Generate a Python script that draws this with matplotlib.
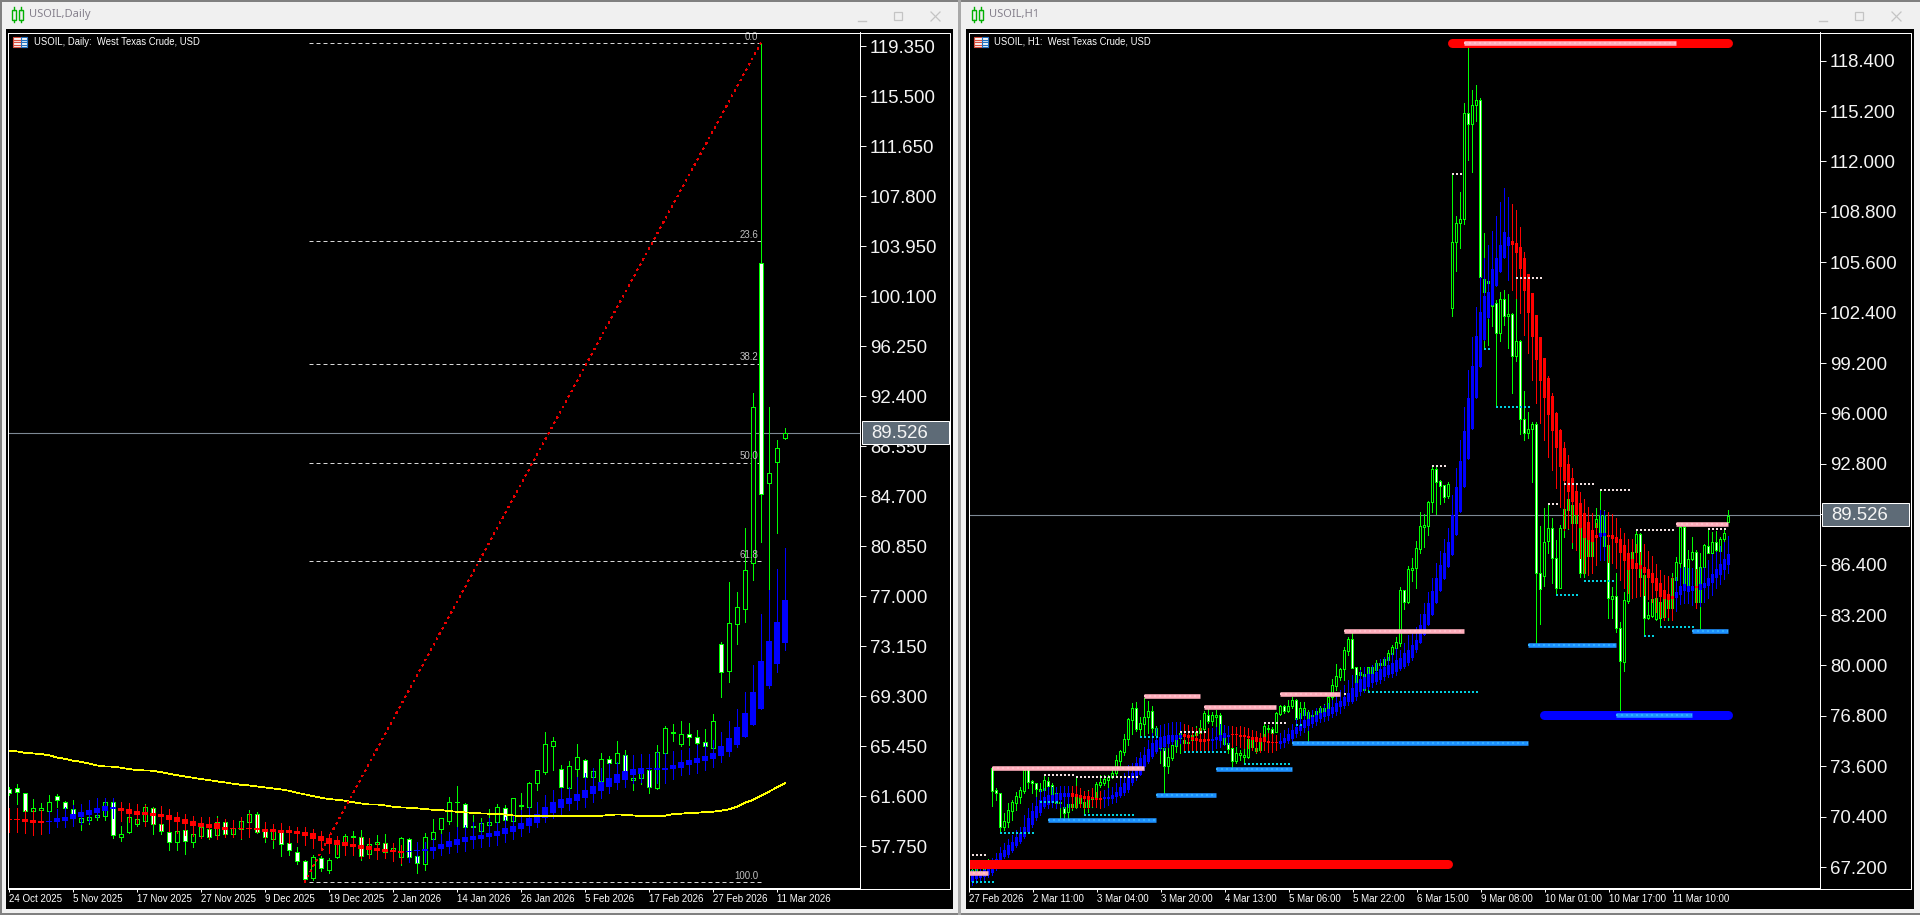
"""USOIL daily and H1 terminal windows, side by side."""

import matplotlib
matplotlib.use("Agg")
import matplotlib.pyplot as plt
import numpy as np
from matplotlib.patches import Rectangle

# ── Daily window ──────────────────────────────────────────────────────────────
d_tick_labels = ["24 Oct 2025", "5 Nov 2025", "17 Nov 2025", "27 Nov 2025", "9 Dec 2025", "19 Dec 2025",
                 "2 Jan 2026", "14 Jan 2026", "26 Jan 2026", "5 Feb 2026", "17 Feb 2026", "27 Feb 2026",
                 "11 Mar 2026"]
d_price_ticks = [119.35, 115.5, 111.65, 107.8, 103.95, 100.1, 96.25, 92.4, 88.55, 84.7, 80.85, 77.0,
                 73.15, 69.3, 65.45, 61.6, 57.75]
d_dir = ("DDDUUUDDDU" "UUUDUUUUDD" "DUDUUDUDUU" "UDDUDDDDUD" "UUUUDUUDUU"
         "DDUUUUUDDU" "UUDUUUUUUD" "UUDUUDUDUU" "DUUUUDDDUD" "UUUUDUUU")
d_top = [62.11,62.19,61.80,60.65,60.65,61.11,61.62,61.16,60.57,59.88,
         60.01,60.13,61.11,61.11,58.64,59.95,59.80,60.72,60.65,59.42,
         58.80,58.93,58.98,58.64,59.18,59.06,59.57,59.57,59.11,59.70,
         60.19,60.19,58.95,58.90,58.90,57.95,57.31,56.62,56.87,56.85,
         56.64,58.21,58.54,58.52,58.47,57.88,58.03,57.95,57.57,58.34,
         58.26,56.98,58.41,58.80,59.88,61.11,61.16,60.95,59.26,59.49,
         59.57,60.72,60.65,61.42,60.88,62.57,63.57,65.58,65.81,63.65,
         63.88,64.57,64.34,63.50,64.42,64.42,64.88,64.78,62.96,63.73,
         63.60,65.01,66.81,66.50,66.35,66.35,66.12,65.73,67.35,73.27,
         74.89,76.12,78.97,91.52,102.66,86.49,88.37,89.52]
d_bot = [61.80,61.88,60.47,60.47,60.55,60.47,61.29,60.65,59.88,59.62,
         59.75,59.95,60.08,58.59,58.41,58.80,59.47,59.70,59.47,58.90,
         58.03,58.08,58.16,58.03,58.52,58.47,58.59,58.64,58.64,59.06,
         59.62,58.85,58.41,58.29,57.88,57.46,56.62,55.18,55.26,56.03,
         55.92,56.93,57.90,58.41,57.00,57.10,57.88,57.31,57.39,56.93,
         56.93,56.41,56.33,58.31,59.08,59.70,61.11,59.23,59.23,58.93,
         59.39,59.62,59.75,59.70,60.83,60.78,62.62,63.47,65.47,62.32,
         62.24,63.70,63.09,63.09,62.78,64.16,64.16,63.55,62.80,62.96,
         62.26,62.19,64.88,66.45,65.60,66.12,65.65,65.47,65.32,71.12,
         71.25,74.87,76.02,79.51,84.85,85.67,87.29,89.14]
d_high = [62.26,62.52,61.85,61.37,61.03,61.67,61.75,61.21,61.29,60.52,
          60.78,60.78,61.42,61.42,59.29,60.52,60.90,60.98,60.72,59.88,
          58.85,58.98,59.11,59.24,59.49,59.36,60.06,59.62,59.49,60.01,
          60.52,60.39,59.11,59.11,58.98,58.00,57.70,56.67,57.05,57.00,
          56.80,58.47,58.64,58.90,58.98,58.34,58.59,58.67,57.95,58.47,
          58.34,58.08,58.72,59.80,59.88,61.49,62.37,61.08,60.13,59.88,
          60.57,60.95,60.90,61.42,61.80,62.65,63.57,66.50,66.12,63.98,
          64.29,65.58,64.42,63.73,64.88,64.68,65.83,65.14,64.75,64.11,
          63.86,65.52,66.99,67.14,67.37,67.19,66.68,66.76,67.89,73.43,
          78.05,77.28,82.23,92.60,119.56,91.52,89.00,89.91]
d_low = [61.67,60.98,60.26,60.13,60.13,60.13,60.78,60.26,59.49,58.98,
         59.44,59.75,59.75,58.39,58.16,58.72,59.29,59.36,58.67,58.67,
         57.44,57.44,57.13,57.64,58.34,58.29,58.34,58.47,58.52,58.29,
         59.49,58.72,58.08,57.57,57.00,57.05,56.36,54.98,55.13,55.82,
         55.64,56.85,57.80,57.57,56.67,56.93,57.77,57.18,57.18,56.28,
         56.54,55.69,55.90,56.85,57.95,59.44,59.23,59.11,58.21,58.21,
         59.23,59.11,59.44,59.23,60.00,60.65,62.06,63.29,63.60,62.26,
         62.19,62.83,62.06,62.78,62.70,63.98,63.98,62.26,62.06,62.49,
         61.85,62.11,64.75,65.83,65.45,65.52,65.52,63.65,65.32,69.24,
         70.40,73.33,75.02,78.23,81.18,77.46,81.82,89.10]
d_ha_top = [59.83,59.83,59.83,59.75,59.67,59.70,59.90,59.98,60.21,60.34,
            60.49,60.70,60.83,60.72,60.70,60.57,60.42,60.36,60.26,60.21,
            60.11,59.95,59.80,59.65,59.49,59.42,59.49,59.24,59.13,59.11,
            59.13,59.11,59.03,59.03,58.98,58.95,58.90,58.82,58.72,58.52,
            58.34,58.21,58.05,57.93,57.82,57.77,57.62,57.52,57.46,57.36,
            57.36,57.44,57.51,57.69,57.90,58.11,58.26,58.44,58.52,58.59,
            58.75,58.88,59.11,59.29,59.49,59.88,60.21,60.72,61.13,61.34,
            61.44,61.75,62.06,62.37,62.70,62.96,63.26,63.52,63.65,63.73,
            63.75,63.73,63.75,63.98,64.21,64.37,64.52,64.68,64.88,65.45,
            66.06,66.88,67.96,69.60,71.97,73.53,74.99,76.69]
d_ha_bot = [59.72,59.72,59.62,59.54,59.52,59.62,59.62,59.70,59.80,59.95,
            60.13,60.26,60.44,60.62,60.47,60.21,60.13,60.13,60.08,59.95,
            59.77,59.59,59.47,59.31,59.18,59.11,59.06,58.98,59.03,59.06,
            59.08,58.98,58.82,58.82,58.77,58.75,58.70,58.54,58.31,58.16,
            57.93,57.82,57.75,57.67,57.54,57.44,57.39,57.28,57.28,57.23,
            57.28,57.34,57.34,57.36,57.51,57.67,57.82,58.05,58.21,58.26,
            58.44,58.54,58.67,58.85,59.03,59.29,59.49,59.93,60.26,60.70,
            60.98,61.19,61.44,61.75,61.98,62.26,62.57,62.83,63.19,63.29,
            63.65,63.60,63.62,63.68,63.75,63.98,64.11,64.29,64.42,64.70,
            65.01,65.52,66.14,67.06,68.29,70.09,71.79,73.38]
d_ha_high = [60.65,60.65,60.52,60.52,60.52,60.47,60.57,60.78,60.90,60.98,
             61.29,61.42,61.42,61.42,61.16,61.03,60.98,60.90,60.70,60.83,
             60.57,60.39,60.21,60.06,60.01,59.95,59.88,59.80,59.75,59.95,
             60.26,60.13,59.62,59.44,59.49,59.29,59.24,59.18,59.03,58.93,
             58.67,58.52,58.47,58.34,58.47,58.34,57.95,57.95,57.95,57.82,
             58.08,58.08,58.08,58.34,58.67,58.85,59.18,59.36,59.62,59.62,
             59.88,59.62,60.00,60.13,60.52,60.78,61.16,61.67,62.06,62.19,
             62.32,63.03,63.34,63.73,63.73,64.11,64.24,64.75,64.75,64.83,
             64.83,65.01,64.88,65.06,65.14,65.32,65.52,65.65,65.91,66.50,
             67.37,68.27,69.60,71.66,75.59,77.46,79.05,80.69]
d_ha_low = [58.85,58.85,58.72,58.59,58.67,58.72,59.18,59.18,59.29,59.44,
            59.62,60.01,60.13,59.88,59.70,59.62,59.49,59.29,59.44,58.98,
            58.93,58.77,58.59,58.52,58.39,58.34,58.26,58.47,58.47,58.34,
            58.41,58.85,58.34,58.21,58.08,57.95,58.08,57.82,57.62,57.44,
            57.18,57.13,57.05,57.05,56.80,56.80,56.72,56.80,56.62,56.46,
            56.54,56.54,56.54,56.80,57.05,57.18,57.31,57.36,57.57,57.69,
            57.75,57.82,58.08,58.26,58.52,58.85,59.23,59.62,59.88,60.21,
            60.52,60.57,60.78,61.16,61.42,61.80,62.11,62.32,62.57,62.70,
            62.32,62.57,62.62,62.88,63.21,63.29,63.34,63.60,63.80,64.24,
            64.68,65.40,66.14,67.06,68.29,69.94,71.14,72.84]
d_ha_red = [(0, 4), (14, 49)]
d_ma = [65.04,65.04,64.93,64.88,64.83,64.75,64.57,64.47,64.32,64.24,
        64.11,63.96,63.88,63.86,63.78,63.68,63.60,63.57,63.55,63.44,
        63.32,63.21,63.11,63.01,62.91,62.83,62.73,62.65,62.55,62.47,
        62.42,62.34,62.26,62.19,62.11,62.01,61.85,61.73,61.60,61.47,
        61.37,61.31,61.24,61.13,61.03,60.95,60.95,60.88,60.78,60.72,
        60.70,60.65,60.60,60.54,60.52,60.44,60.39,60.34,60.31,60.26,
        60.24,60.21,60.18,60.11,60.06,60.06,60.08,60.08,60.08,60.08,
        60.08,60.08,60.08,60.08,60.08,60.13,60.18,60.16,60.11,60.06,
        60.03,60.06,60.08,60.21,60.24,60.29,60.31,60.36,60.39,60.47,
        60.57,60.77,61.08,61.29,61.62,61.93,62.26,62.57]
fib_levels = [119.58, 104.33, 94.90, 87.28, 79.66, 54.98]
fib_labels = ["0.0", "23.6", "38.2", "50.0", "61.8", "100.0"]
fib_bars = [37, 94]

# ── H1 window ─────────────────────────────────────────────────────────────────
h_tick_labels = ["27 Feb 2026", "2 Mar 11:00", "3 Mar 04:00", "3 Mar 20:00", "4 Mar 13:00", "5 Mar 06:00",
                 "5 Mar 22:00", "6 Mar 15:00", "9 Mar 08:00", "10 Mar 01:00", "10 Mar 17:00", "11 Mar 10:00"]
h_price_ticks = [118.4, 115.2, 112.0, 108.8, 105.6, 102.4, 99.2, 96.0, 92.8, 89.6, 86.4, 83.2, 80.0,
                 76.8, 73.6, 70.4, 67.2]
h_dir = ("UUUUUUDDDU" "UUUUUDDDUU" "DDDUDUUUDU" "DUUUUUUUUU" "UUDUUUDUDD"
         "UUUUUUUUUU" "DUUDUDDUUU" "UUDUUUDUUD" "UUDUUDUUUU" "UUUUUUDDUD"
         "UUUUUUUUUD" "UUUUUUUDDD" "UUUUUDUUDU" "UUDUDUDUDD" "UUDDUUDDUU"
         "UUUDUUUUUU" "DUDDUUUUDD" "UUUDUUUUUD" "UUDUUDUDUUU")
h_top = [66.90,67.01,67.05,66.97,67.12,67.33,
         73.46,72.09,71.92,70.12,70.82,71.35,71.71,72.09,73.36,73.40,72.64,72.51,72.13,72.72,
         72.68,72.41,71.88,71.35,70.99,71.20,71.20,71.71,71.77,71.35,71.67,71.67,72.47,72.62,
         72.79,72.94,73.19,73.99,74.56,75.30,76.57,77.27,77.27,76.32,76.74,77.10,77.10,76.05,
         75.47,74.73,74.20,74.95,75.47,75.69,75.26,75.16,75.58,75.79,76.00,76.96,76.85,76.85,
         76.85,76.85,75.37,75.05,74.73,74.42,74.46,74.31,75.30,75.26,74.73,75.26,76.15,76.05,
         75.96,76.96,77.42,77.44,77.44,77.80,77.80,77.27,77.27,77.06,76.85,77.12,77.27,77.27,
         78.01,78.75,79.30,79.77,80.98,81.67,81.67,79.92,79.56,79.45,79.88,79.88,80.13,80.13,
         80.38,80.76,81.15,81.47,84.79,84.77,86.10,86.16,87.43,88.85,88.89,90.35,92.47,92.47,
         91.71,91.43,91.52,106.91,108.07,108.33,115.10,115.10,115.61,115.88,115.88,104.52,104.43,
         103.14,102.99,103.25,103.25,102.30,102.30,100.60,100.60,95.63,95.00,95.31,95.33,85.89,
         87.86,88.70,88.70,86.80,88.70,89.91,90.54,90.18,89.55,89.02,88.49,87.96,88.60,89.30,
         89.55,89.55,87.65,84.41,84.41,82.36,84.15,86.33,87.22,88.32,88.32,85.74,83.20,84.20,
         84.26,84.05,84.20,84.20,85.53,86.54,88.81,88.81,86.73,87.22,87.22,86.27,87.65,87.58,
         87.86,87.86,88.00,88.39,89.51]
h_bot = [66.69,66.76,66.80,66.80,66.90,66.97,
         72.05,71.88,69.76,69.76,70.08,70.78,71.28,71.67,72.05,72.62,72.51,72.13,72.03,72.09,
         72.34,71.67,71.24,71.24,70.65,70.67,70.99,70.99,71.24,70.99,70.99,71.50,71.67,72.41,
         72.55,72.72,72.94,73.15,73.95,74.52,75.30,76.53,75.96,75.96,76.28,76.74,76.05,75.58,
         74.73,73.63,73.63,74.10,74.88,75.37,75.05,75.05,75.26,75.58,75.69,75.96,76.49,76.49,
         76.74,75.43,75.03,74.67,73.93,73.95,74.31,74.20,74.16,74.84,74.59,74.63,75.30,75.98,
         75.69,75.79,76.89,77.12,77.12,77.42,76.57,76.64,76.85,76.22,76.32,76.74,77.06,77.06,
         77.21,77.97,78.69,79.28,79.75,80.93,79.85,78.97,79.39,78.44,79.07,79.07,79.71,80.02,
         80.02,80.34,80.72,81.08,81.45,84.05,84.05,86.08,86.16,87.41,88.81,88.87,90.35,91.67,
         91.41,90.71,90.76,102.68,106.91,108.07,108.33,114.36,114.36,115.61,104.69,103.73,104.31,
         102.85,101.13,101.13,102.21,102.21,99.67,99.67,95.63,94.78,94.78,95.00,85.89,84.83,
         85.70,87.92,86.80,84.94,84.94,88.70,89.87,89.02,89.02,85.85,85.85,86.95,86.95,88.81,
         88.28,87.58,84.26,84.22,82.36,80.28,80.24,84.09,86.33,87.22,85.63,82.99,82.99,83.16,
         82.93,83.03,83.10,83.62,83.62,85.42,86.52,85.17,85.11,86.73,84.05,84.05,86.27,87.16,
         87.12,87.33,87.29,88.00,89.13]
h_high = [67.12,67.20,67.25,67.20,67.40,67.70,
          73.46,72.19,71.92,70.61,71.24,71.45,71.98,72.30,73.46,73.46,72.72,72.55,72.51,73.04,
          72.94,72.51,72.09,71.67,71.14,71.35,71.28,72.98,72.09,71.67,72.09,72.19,72.62,73.04,
          73.04,73.04,73.46,74.31,74.63,75.62,76.64,77.63,77.70,76.74,77.91,77.74,77.42,76.15,
          75.58,74.84,74.73,75.47,75.79,76.00,75.47,75.58,75.79,76.15,76.53,77.10,77.38,77.06,
          77.17,76.96,76.22,75.69,74.84,74.84,74.63,74.84,75.58,75.58,75.05,75.69,76.32,76.22,
          76.11,77.06,77.48,77.48,77.80,78.01,77.84,77.70,77.70,77.17,77.06,77.27,77.42,77.55,
          78.23,79.11,80.07,79.81,81.19,81.78,82.03,79.92,79.92,79.49,79.92,80.02,80.34,80.34,
          80.55,80.98,81.29,81.82,84.96,84.77,86.31,86.82,87.90,89.74,89.61,90.42,92.62,92.62,
          91.77,91.45,91.64,111.14,108.54,110.04,115.69,119.18,116.54,116.83,116.01,107.44,104.69,
          103.42,103.21,103.73,103.84,103.59,102.36,103.31,100.67,97.43,96.12,95.48,95.47,88.85,
          89.97,90.25,89.34,87.96,88.91,90.18,91.56,91.35,90.18,89.13,90.18,88.81,89.23,89.97,
          91.14,89.87,87.75,85.00,85.85,82.78,84.68,86.90,87.43,88.60,88.43,85.85,84.05,84.26,
          84.37,84.15,84.37,84.37,85.85,86.90,89.02,88.96,87.33,88.17,87.33,87.12,87.71,88.60,
          88.49,88.53,88.17,88.70,89.87]
h_low = [66.50,66.55,66.60,66.60,66.70,66.80,
         71.09,71.45,69.38,69.55,69.76,70.18,70.82,71.24,71.92,72.19,71.88,71.45,71.24,71.45,
         71.77,71.45,71.03,70.29,70.29,70.29,70.82,70.92,71.03,70.50,70.71,71.03,71.35,72.30,
         72.41,72.30,72.83,72.94,73.61,74.31,74.95,75.64,75.86,75.47,75.43,75.69,75.79,74.42,
         73.78,71.88,73.15,73.99,74.52,74.42,74.63,74.63,75.05,75.47,75.26,75.86,76.32,76.22,
         75.79,75.26,74.95,74.42,73.53,73.78,73.99,73.78,74.10,74.63,74.46,74.52,75.16,75.79,
         75.58,75.75,76.85,76.96,77.06,77.27,76.11,76.43,76.64,75.16,76.11,76.64,76.85,76.85,
         77.06,77.80,78.44,79.07,79.07,80.66,79.85,78.86,78.97,78.33,78.44,78.97,79.18,79.39,
         79.49,79.92,80.55,80.66,81.23,83.58,83.98,85.36,84.94,87.14,87.52,88.28,89.74,89.61,
         90.27,90.38,90.65,102.19,105.07,106.53,108.03,112.11,111.35,114.57,103.67,100.14,100.35,
         101.56,96.43,100.60,101.62,100.18,97.28,99.35,94.68,94.32,94.42,91.67,81.36,82.63,
         85.06,87.11,85.26,84.47,84.89,88.17,88.66,87.43,89.02,85.59,85.59,85.85,86.69,88.39,
         86.90,86.69,82.99,82.99,82.14,77.13,79.67,83.94,85.74,86.48,85.63,81.87,82.95,83.10,
         82.88,82.46,82.88,82.88,83.52,85.32,86.27,85.11,85.00,86.69,83.62,82.36,86.16,87.12,
         87.07,87.29,87.22,87.92,89.13]
h_ha_top = [66.48,66.69,66.76,66.90,67.01,67.22,67.33,67.69,68.11,68.28,
            68.60,68.81,69.13,69.34,69.76,70.29,70.78,71.09,71.45,71.67,
            71.77,71.77,71.83,71.88,71.88,71.88,71.88,71.83,71.77,71.73,
            71.71,71.62,71.58,71.56,71.62,71.67,71.77,71.98,72.26,72.51,
            72.94,73.15,73.78,74.10,74.31,74.67,75.05,75.26,75.43,75.52,
            75.58,75.58,75.58,75.58,75.62,75.58,75.47,75.37,75.33,75.30,
            75.30,75.30,75.43,75.58,75.69,75.58,75.62,75.62,75.58,75.58,
            75.52,75.47,75.43,75.37,75.47,75.20,75.16,75.16,75.20,75.37,
            75.62,75.90,76.11,76.22,76.53,76.57,76.74,76.85,76.96,77.06,
            77.21,77.34,77.59,77.76,78.01,78.27,78.54,78.86,79.11,79.24,
            79.45,79.45,79.60,79.75,79.92,80.02,80.13,80.34,80.45,80.76,
            80.98,81.29,81.61,82.57,83.27,83.94,84.75,85.57,86.38,87.12,
            87.86,89.55,91.31,92.98,94.88,97.01,99.04,100.92,102.47,103.46,
            103.73,105.15,105.85,106.70,107.52,107.18,106.95,106.80,106.57,105.89,
            104.86,103.63,102.25,100.88,99.50,98.23,97.11,96.01,94.95,93.78,
            92.79,91.88,91.09,90.29,89.66,89.08,88.60,88.28,88.39,88.39,
            88.28,88.28,88.13,88.00,87.65,87.12,86.73,86.48,86.38,86.23,
            86.12,85.85,85.53,85.21,84.79,84.53,84.43,84.68,85.04,85.15,
            85.06,85.04,85.04,85.17,85.25,85.53,85.80,86.12,86.44,86.73,87.07]
h_ha_bot = [66.06,66.27,66.42,66.48,66.59,66.69,66.80,67.12,67.65,67.86,
            67.96,68.24,68.53,68.81,69.13,69.44,69.87,70.29,70.61,71.03,
            71.14,71.24,71.35,71.45,71.62,71.67,71.67,71.62,71.56,71.52,
            71.45,71.50,71.45,71.45,71.50,71.52,71.52,71.62,71.73,71.88,
            72.09,72.51,72.83,73.04,73.57,73.85,74.20,74.52,74.73,74.84,
            75.01,75.16,75.26,75.37,75.47,75.41,75.26,75.22,75.16,75.16,
            75.20,75.22,75.26,75.22,75.37,75.43,75.58,75.56,75.47,75.43,
            75.37,75.26,75.16,75.11,75.16,75.05,75.05,75.05,75.03,75.05,
            75.18,75.33,75.62,75.86,76.00,76.15,76.28,76.43,76.57,76.70,
            76.81,76.91,77.06,77.34,77.42,77.70,77.70,78.01,78.29,78.48,
            78.61,78.86,78.97,79.07,79.24,79.39,79.45,79.60,79.75,79.92,
            80.13,80.45,80.98,81.40,81.93,82.57,83.20,83.98,84.73,85.49,
            86.27,87.01,88.28,89.76,91.33,93.10,95.01,97.01,98.97,100.67,
            102.08,102.89,104.12,105.00,105.85,106.63,106.70,106.21,105.17,103.80,
            102.40,100.88,99.40,98.08,97.01,95.91,94.91,93.78,92.62,91.71,
            91.03,90.40,89.55,88.70,88.07,87.96,87.86,88.11,88.17,88.22,
            88.13,88.03,87.75,87.12,86.65,86.06,86.12,86.12,86.12,85.85,
            85.57,85.21,84.75,84.37,84.22,84.15,84.22,84.30,84.47,84.73,
            84.68,84.75,84.89,84.79,84.89,85.04,85.21,85.53,85.74,86.06,86.38]
h_ha_high = [66.90,67.01,67.22,67.22,67.33,67.54,67.75,68.07,68.45,68.70,
             68.98,69.23,69.55,69.76,70.50,70.92,71.24,71.67,72.09,72.19,
             72.26,72.30,72.30,72.34,72.34,72.34,72.34,72.34,72.19,72.05,
             72.05,72.19,71.98,72.05,72.09,72.19,72.30,72.55,72.94,73.15,
             73.68,73.78,74.20,74.52,74.84,75.26,75.69,76.00,76.22,76.28,
             76.36,76.43,76.43,76.43,76.28,76.22,76.07,76.00,76.00,75.79,
             76.00,76.00,76.11,76.28,76.22,76.15,76.15,76.11,76.15,76.11,
             76.00,75.90,75.86,75.69,75.64,75.69,75.69,75.58,75.73,75.90,
             76.00,76.28,76.64,76.96,77.17,77.06,77.17,77.27,77.27,77.48,
             77.59,77.80,78.12,78.44,78.75,79.07,79.39,79.39,79.71,79.92,
             79.81,80.02,80.13,80.38,80.55,80.55,80.76,81.08,80.98,81.40,
             81.93,82.03,82.46,83.27,83.94,84.68,85.57,86.48,87.26,88.03,
             88.70,90.82,92.51,94.31,96.38,98.76,100.88,102.74,104.69,105.85,
             106.70,107.61,108.54,109.43,110.34,109.77,109.30,108.92,107.86,106.27,
             104.86,103.63,102.25,100.88,99.50,98.38,97.28,96.10,95.00,94.16,
             93.36,92.51,91.56,91.03,90.54,90.04,89.70,89.06,89.87,89.82,
             89.76,89.61,89.38,88.70,88.39,88.03,88.00,87.71,87.22,87.71,
             87.26,86.95,86.44,86.06,85.74,85.68,85.63,85.63,86.16,86.27,
             86.16,86.16,86.12,86.21,86.27,86.69,87.05,87.22,87.58,87.86,88.22]
h_ha_low = [65.95,66.06,66.16,66.27,66.37,66.59,66.69,67.01,67.54,67.75,
            67.86,68.17,68.45,68.70,69.02,69.34,69.76,70.18,70.50,70.92,
            70.92,71.03,70.92,71.03,70.92,71.03,70.92,71.03,71.03,70.92,
            70.92,71.07,71.03,70.92,70.99,71.14,71.24,71.35,71.67,71.77,
            71.98,72.41,72.72,73.04,73.36,73.78,74.10,74.42,74.63,74.63,
            74.84,75.01,74.95,75.05,74.63,74.63,74.63,74.59,74.52,74.52,
            74.63,74.63,74.73,74.84,74.95,75.01,74.84,74.95,74.84,74.73,
            74.73,74.63,74.52,74.52,74.63,74.52,74.52,74.63,74.73,74.84,
            75.05,75.16,75.47,75.58,75.79,75.90,76.11,76.22,76.43,76.49,
            76.53,76.74,76.85,76.96,77.27,77.48,77.59,77.80,78.12,78.33,
            78.48,78.61,78.82,78.90,79.07,79.24,79.28,79.39,79.71,79.81,
            80.02,80.34,80.87,81.40,81.93,82.57,83.20,83.98,84.73,85.49,
            86.27,87.01,88.28,89.76,91.33,93.10,95.01,97.01,98.97,100.67,
            102.08,102.89,104.12,105.00,105.85,104.48,103.84,103.31,102.36,100.98,
            99.82,98.13,96.65,95.38,94.31,93.25,92.41,91.28,90.08,88.60,
            88.70,87.86,87.33,86.80,85.85,85.74,85.85,86.38,86.69,86.69,
            86.59,86.48,86.16,85.42,84.89,84.58,84.26,84.37,84.41,84.47,
            84.20,84.05,83.41,83.10,82.88,83.10,82.88,83.48,83.90,83.94,
            83.94,83.84,83.62,83.77,84.05,84.30,84.47,84.89,85.15,85.47,85.85]
h_ha_red = [(26, 33), (54, 60), (66, 77), (136, 157), (160, 176), (182, 182)]

# support / resistance levels on H1: first bar, last bar, price
pink_start = [0, 6, 44, 59, 78, 94, 124, 177]
pink_end = [5, 44, 58, 77, 93, 124, 177, 190]
pink_price = [66.8, 73.5, 78.05, 77.35, 78.2, 82.2, 119.5, 88.98]
sky_start = [20, 47, 62, 81, 140, 162, 181]
sky_end = [47, 62, 81, 140, 162, 181, 190]
sky_price = [70.2, 71.75, 73.4, 75.07, 81.3, 76.85, 82.2]
cyan_start = [0, 8, 18, 29, 43, 54, 69, 82, 100, 129, 132, 147, 154, 169, 173]
cyan_end = [7, 17, 23, 42, 48, 65, 81, 84, 128, 131, 141, 153, 162, 172, 182]
cyan_price = [66.25, 69.35, 71.3, 70.5, 75.45, 74.5, 73.75, 76.2, 78.3, 100.1, 96.4, 84.5, 85.35, 81.85, 82.45]
pale_start = [0, 19, 27, 53, 74, 94, 116, 121, 137, 145, 149, 158, 167, 185]
pale_end = [5, 27, 43, 60, 80, 95, 120, 124, 144, 148, 157, 166, 177, 190]
pale_price = [67.95, 73.05, 72.9, 75.8, 76.35, 78.2, 92.66, 111.2, 104.6, 90.25, 91.5, 91.14, 88.6, 88.65]
thick_red_bars = [[0, 120], [121, 190]]
thick_red_price = [67.4, 119.5]
thick_blue_bars = [144, 190]
thick_blue_price = 76.85

last_price = 89.526

PX = 0.72  # one pixel in points at dpi 100
GREEN = "#00ff00"
LABEL_FONT = "Liberation Sans"
TITLE_FONT = "Noto Sans"


def px_box(left, top, right, bottom):
    """Axes rectangle from pixel edges of the 1920x915 canvas."""
    return [left / 1920, 1 - bottom / 915, (right - left) / 1920, (bottom - top) / 915]


def draw_candles(ax, top, bot, high, low, dirs, body_w):
    x = np.arange(len(top))
    ax.vlines(x, low, high, colors=GREEN, linewidth=PX, antialiased=False, zorder=2)
    fill = ["white" if d == "D" else "black" for d in dirs]
    ax.bar(x, np.array(top) - np.array(bot), bottom=bot, width=body_w, color=fill,
           edgecolor=GREEN, linewidth=PX, antialiased=False, zorder=2.1)


def draw_ha(ax, top, bot, high, low, red_spans, body_w, min_h):
    x = np.arange(len(top))
    colour = np.array(["#0000ff"] * len(top), dtype=object)
    for first, last in red_spans:
        colour[first:last + 1] = "#ff0000"
    colour = list(colour)
    ax.vlines(x, low, high, colors=colour, linewidth=PX, antialiased=False, zorder=3)
    # very flat bodies still show as a one-pixel dash
    height = np.maximum(np.array(top) - np.array(bot), min_h)
    ax.bar(x, height, bottom=bot, width=body_w, color=colour, linewidth=0,
           antialiased=False, zorder=3.1)


def style_axis(ax, xticks, xlabels, yticks, xlim, ylim):
    ax.set_facecolor("black")
    ax.set_xlim(*xlim)
    ax.set_ylim(*ylim)
    for side in ["top", "left"]:
        ax.spines[side].set_visible(False)
    for side in ["right", "bottom"]:
        ax.spines[side].set_color("white")
        ax.spines[side].set_linewidth(PX)
    ax.yaxis.tick_right()
    ax.set_yticks(yticks)
    ax.set_yticklabels([f"{v:.3f}" for v in yticks], fontfamily=LABEL_FONT, fontsize=13.4)
    ax.tick_params(axis="y", colors="#f4f4f4", length=4.3, width=PX, pad=2.9)
    ax.set_xticks(xticks)
    ax.set_xticklabels(xlabels, fontfamily=LABEL_FONT, fontsize=7.0, ha="left")
    ax.tick_params(axis="x", colors="white", length=2.9, width=PX, pad=1.5)
    ax.axhline(last_price, color="#7d8994", linewidth=PX * 1.1, zorder=1.5)


def draw_chrome(bg, left, right, title):
    # left/right: edges of the black chart area in pixels
    bg.add_patch(Rectangle((left, 29), right - left, 880, color="black", lw=0))
    cx = left + 6
    for off in (0, 7):
        bg.add_patch(Rectangle((cx + off, 9.5), 4, 10, fill=False, edgecolor="#00b000", lw=1.0))
        bg.plot([cx + off + 2, cx + off + 2], [7, 9.5], color="#00b000", lw=1.0)
        bg.plot([cx + off + 2, cx + off + 2], [19.5, 22], color="#00b000", lw=1.0)
    bg.text(left + 23, 15, title, color="#85808c", fontsize=8.0, fontfamily=TITLE_FONT, va="center")
    mx = right - 91
    bg.plot([mx - 4, mx + 4], [20.5, 20.5], color="#c4c4c4", lw=1.0)
    bg.add_patch(Rectangle((mx + 32, 12), 8, 8, fill=False, edgecolor="#c4c4c4", lw=0.9))
    bg.plot([mx + 69, mx + 78], [12, 21], color="#c4c4c4", lw=0.9)
    bg.plot([mx + 69, mx + 78], [21, 12], color="#c4c4c4", lw=0.9)


def draw_overlay(top_ax, left, axis_x, right, label):
    top_ax.plot([left, right, right, left, left], [32.5, 32.5, 888.5, 888.5, 32.5], color="white", lw=PX)
    top_ax.plot([axis_x, axis_x], [32, 888], color="white", lw=PX)
    ix = left + 5
    top_ax.add_patch(Rectangle((ix, 37), 14, 10, facecolor="white", edgecolor="#d85040", lw=0.8))
    top_ax.add_patch(Rectangle((ix + 7.5, 37), 6.5, 10, facecolor="white", edgecolor="#2070c0", lw=0.8))
    for yy in (39.5, 42, 44.5):
        top_ax.plot([ix + 1, ix + 6.5], [yy, yy], color="#d85040", lw=0.9)
        top_ax.plot([ix + 8.5, ix + 13], [yy, yy], color="#2070c0", lw=0.9)
    top_ax.text(ix + 20.5, 42, label, color="white", fontsize=6.85, fontfamily=LABEL_FONT, va="center")


def draw_price_box(top_ax, left, y_mid):
    top_ax.add_patch(Rectangle((left, y_mid - 11.5), 87, 23, facecolor="#5e6b77", edgecolor="white", lw=PX, zorder=5))
    top_ax.text(left + 9, y_mid + 0.5, f"{last_price:.3f}", color="#f4f4f4", fontsize=13.4,
                fontfamily=LABEL_FONT, va="center", zorder=6)


def segments(ax, start, end, price, **kw):
    for a, b, p in zip(start, end, price):
        ax.plot([a, b], [p, p], **kw)


fig = plt.figure(figsize=(19.2, 9.15), dpi=100, facecolor="#f0f0f0")

bg = fig.add_axes([0, 0, 1, 1], zorder=0)
bg.set_xlim(0, 1920)
bg.set_ylim(915, 0)
bg.axis("off")
bg.add_patch(Rectangle((0, 0), 1920, 1.5, color="#808080", lw=0))
bg.add_patch(Rectangle((0, 0), 1.5, 915, color="#808080", lw=0))
bg.add_patch(Rectangle((0, 913), 1920, 2, color="#808080", lw=0))
bg.add_patch(Rectangle((958, 0), 3, 915, color="#a8a8a8", lw=0))
draw_chrome(bg, 6, 953, "USOIL,Daily")
draw_chrome(bg, 966, 1914, "USOIL,H1")

# daily chart: 8 px per bar, 12.987 px per USD
ax_d = fig.add_axes(px_box(8, 32, 860, 888), zorder=1)
style_axis(ax_d, np.arange(len(d_tick_labels)) * 8, d_tick_labels, d_price_ticks,
           (-0.08, 106.4), (54.517, 120.43))
draw_candles(ax_d, d_top, d_bot, d_high, d_low, d_dir, 0.5)
draw_ha(ax_d, d_ha_top, d_ha_bot, d_ha_high, d_ha_low, d_ha_red, 0.72, 0.08)
ax_d.plot(np.arange(len(d_ma)), d_ma, color="#ffff00", lw=0.55, antialiased=False, zorder=4)
ax_d.plot(fib_bars, [fib_levels[5], fib_levels[0]], color="#e80000", lw=0.55,
          ls=(0, (2, 6)), antialiased=False, zorder=4)
for level, lab in zip(fib_levels, fib_labels):
    ax_d.plot([fib_bars[0] + 0.5, fib_bars[1]], [level, level], color="#d8d8d8", lw=PX,
              ls=(0, (4, 3)), zorder=1.8)
    ax_d.text(fib_bars[1] - 0.3, level + 0.1, lab, color="#c0c0c0", fontsize=7.0,
              fontfamily=LABEL_FONT, ha="right", va="bottom", zorder=4)

# H1 chart: 4 px per bar, 15.75 px per USD
ax_h = fig.add_axes(px_box(969, 32, 1820, 888), zorder=1)
style_axis(ax_h, np.arange(len(h_tick_labels)) * 16 + 0.175, h_tick_labels, h_price_ticks,
           (0.175, 212.9), (65.87, 120.22))
draw_candles(ax_h, h_top, h_bot, h_high, h_low, h_dir, 0.5)
draw_ha(ax_h, h_ha_top, h_ha_bot, h_ha_high, h_ha_low, h_ha_red, 0.9, 0.07)
round_line = dict(solid_capstyle="round", zorder=4)
for bars, price in zip(thick_red_bars, thick_red_price):
    ax_h.plot(bars, [price, price], color="#ff0000", lw=PX * 9, **round_line)
ax_h.plot(thick_blue_bars, [thick_blue_price] * 2, color="#0000ff", lw=PX * 9, **round_line)
segments(ax_h, pink_start, pink_end, pink_price, color="#ffaebc", lw=PX * 4.6, solid_capstyle="butt", zorder=4.2)
segments(ax_h, pink_start, pink_end, pink_price, color="#ffc0cb", lw=PX * 2, ls=(0, (1, 1.5)), zorder=4.3)
segments(ax_h, sky_start, sky_end, sky_price, color="#1e90ff", lw=PX * 4.6, solid_capstyle="butt", zorder=4.2)
segments(ax_h, sky_start, sky_end, sky_price, color="#30b0ff", lw=PX * 2, ls=(0, (1, 1.5)), zorder=4.3)
segments(ax_h, cyan_start, cyan_end, cyan_price, color="#00d0e0", lw=PX * 2, ls=(0, (1, 1)), zorder=4.4)
segments(ax_h, pale_start, pale_end, pale_price, color="#f0e0e0", lw=PX * 2, ls=(0, (1, 1)), zorder=4.4)

top = fig.add_axes([0, 0, 1, 1], zorder=2)
top.set_xlim(0, 1920)
top.set_ylim(915, 0)
top.axis("off")
top.patch.set_alpha(0)
draw_overlay(top, 8, 860, 950, "USOIL, Daily:  West Texas Crude, USD")
draw_overlay(top, 969, 1820, 1911, "USOIL, H1:  West Texas Crude, USD")
draw_price_box(top, 862, 432.5)
draw_price_box(top, 1822, 514.5)

fig.savefig("out.png", dpi=100, facecolor=fig.get_facecolor())
plt.close(fig)
